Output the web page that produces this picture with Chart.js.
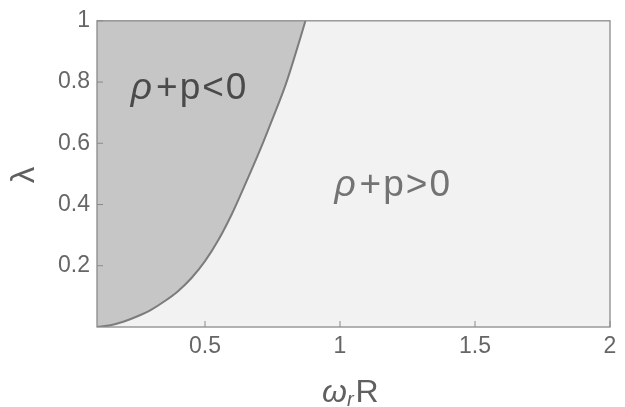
<!DOCTYPE html>
<html><head><meta charset="utf-8">
<script src="https://cdn.jsdelivr.net/npm/chart.js@4/dist/chart.umd.min.js"></script>
<style>html,body{margin:0;padding:0;background:#fff}#wrap{width:625px;height:407px}</style>
</head><body><div id="wrap"><canvas id="c"></canvas></div>
<script>
// boundary curve omega_r R vs lambda (rho+p = 0)
const omegaR = [0.1, 0.15, 0.2, 0.25, 0.3, 0.35, 0.4, 0.45, 0.5, 0.55, 0.6, 0.65, 0.7, 0.75, 0.8, 0.85, 0.872];
const lambdaVals = [0, 0.006, 0.018, 0.035, 0.056, 0.084, 0.117, 0.16, 0.215, 0.285, 0.37, 0.468, 0.57, 0.68, 0.795, 0.935, 1.0];
const xTickVals = [0.5, 1, 1.5, 2];
const yTickVals = [0.2, 0.4, 0.6, 0.8, 1];
const xTickLabels = ['0.5', '1', '1.5', '2'];
const yTickLabels = ['0.2', '0.4', '0.6', '0.8', '1'];
const regionLabels = ['ρ+p<0', 'ρ+p>0'];

const FONT = "'Liberation Sans', Arial, sans-serif";

const bgPlugin = {
  id: 'bg',
  beforeDatasetsDraw(chart) {
    const a = chart.chartArea, ctx = chart.ctx;
    ctx.save(); ctx.fillStyle = '#f2f2f2';
    ctx.fillRect(a.left, a.top, a.right - a.left, a.bottom - a.top);
    ctx.restore();
  }
};

function drawRegionLabel(ctx, text, cx, baseline, color) {
  ctx.save();
  ctx.fillStyle = color; ctx.textBaseline = 'alphabetic';
  ctx.letterSpacing = '2px';
  const greek = text[0], rest = text.slice(1);
  ctx.font = 'italic 37px ' + FONT;
  const w1 = ctx.measureText(greek).width + 2;
  ctx.font = '37px ' + FONT;
  const w2 = ctx.measureText(rest).width;
  const x0 = cx - (w1 + w2) / 2;
  ctx.font = 'italic 37px ' + FONT;
  ctx.fillText(greek, x0, baseline);
  ctx.font = '37px ' + FONT;
  ctx.fillText(rest, x0 + w1, baseline);
  ctx.restore();
}

const framePlugin = {
  id: 'frame',
  afterDatasetsDraw(chart) {
    const a = chart.chartArea, ctx = chart.ctx;
    const xs = chart.scales.x, ys = chart.scales.y;
    ctx.save();
    ctx.strokeStyle = '#8a8a8a'; ctx.lineWidth = 1.3;
    ctx.strokeRect(a.left, a.top, a.right - a.left, a.bottom - a.top);
    ctx.lineWidth = 1;
    ctx.beginPath();
    xTickVals.forEach(v => { const p = xs.getPixelForValue(v); ctx.moveTo(p, a.bottom); ctx.lineTo(p, a.bottom - 6); });
    yTickVals.forEach(v => { const p = ys.getPixelForValue(v); ctx.moveTo(a.left, p); ctx.lineTo(a.left + 6, p); });
    ctx.stroke();
    ctx.restore();
    // region labels
    drawRegionLabel(ctx, regionLabels[0], xs.getPixelForValue(0.443), ys.getPixelForValue(0.745), '#4a4a4a');
    drawRegionLabel(ctx, regionLabels[1], xs.getPixelForValue(1.197), ys.getPixelForValue(0.428), '#737373');
    // axis titles
    ctx.save();
    ctx.fillStyle = '#606060';
    ctx.translate(25, 175); ctx.rotate(-Math.PI / 2);
    ctx.font = '33px ' + FONT; ctx.textAlign = 'center'; ctx.textBaseline = 'middle';
    ctx.fillText('λ', 0, 0);
    ctx.restore();
    ctx.save();
    ctx.fillStyle = '#606060'; ctx.textBaseline = 'alphabetic';
    let x = 322;
    ctx.font = 'italic 32px ' + FONT; ctx.fillText('ω', x, 402); x += ctx.measureText('ω').width;
    ctx.font = 'italic 20px ' + FONT; ctx.fillText('r', x, 406); x += ctx.measureText('r').width + 2;
    ctx.font = '32px ' + FONT; ctx.fillText('R', x, 402);
    ctx.restore();
  }
};

new Chart(document.getElementById('c'), {
  type: 'line',
  data: {
    datasets: [{
      data: omegaR.map((x, i) => ({ x: x, y: lambdaVals[i] })),
      borderColor: '#7c7c7c', borderWidth: 2,
      backgroundColor: '#c6c6c6',
      fill: 'end', pointRadius: 0,
      cubicInterpolationMode: 'monotone'
    }]
  },
  options: {
    responsive: true, maintainAspectRatio: false, animation: false,
    layout: { padding: { top: 18, right: 15, left: 0, bottom: 0 } },
    plugins: { legend: { display: false }, tooltip: { enabled: false } },
    scales: {
      x: {
        type: 'linear', min: 0.1, max: 2,
        grid: { display: false, drawTicks: false }, border: { display: false },
        afterBuildTicks: s => { s.ticks = xTickVals.map(v => ({ value: v })); },
        afterFit: s => { s.height = 80; },
        ticks: { padding: 6, color: '#666', font: { size: 23, family: FONT },
          callback: (v) => { const i = xTickVals.indexOf(v); return i >= 0 ? xTickLabels[i] : ''; } }
      },
      y: {
        type: 'linear', min: 0, max: 1,
        grid: { display: false, drawTicks: false }, border: { display: false },
        afterBuildTicks: s => { s.ticks = yTickVals.map(v => ({ value: v })); },
        afterFit: s => { s.width = 97; },
        ticks: { padding: 7, color: '#666', font: { size: 23, family: FONT },
          callback: (v) => { const i = yTickVals.indexOf(v); return i >= 0 ? yTickLabels[i] : ''; } }
      }
    }
  },
  plugins: [bgPlugin, framePlugin]
});
</script></body></html>
